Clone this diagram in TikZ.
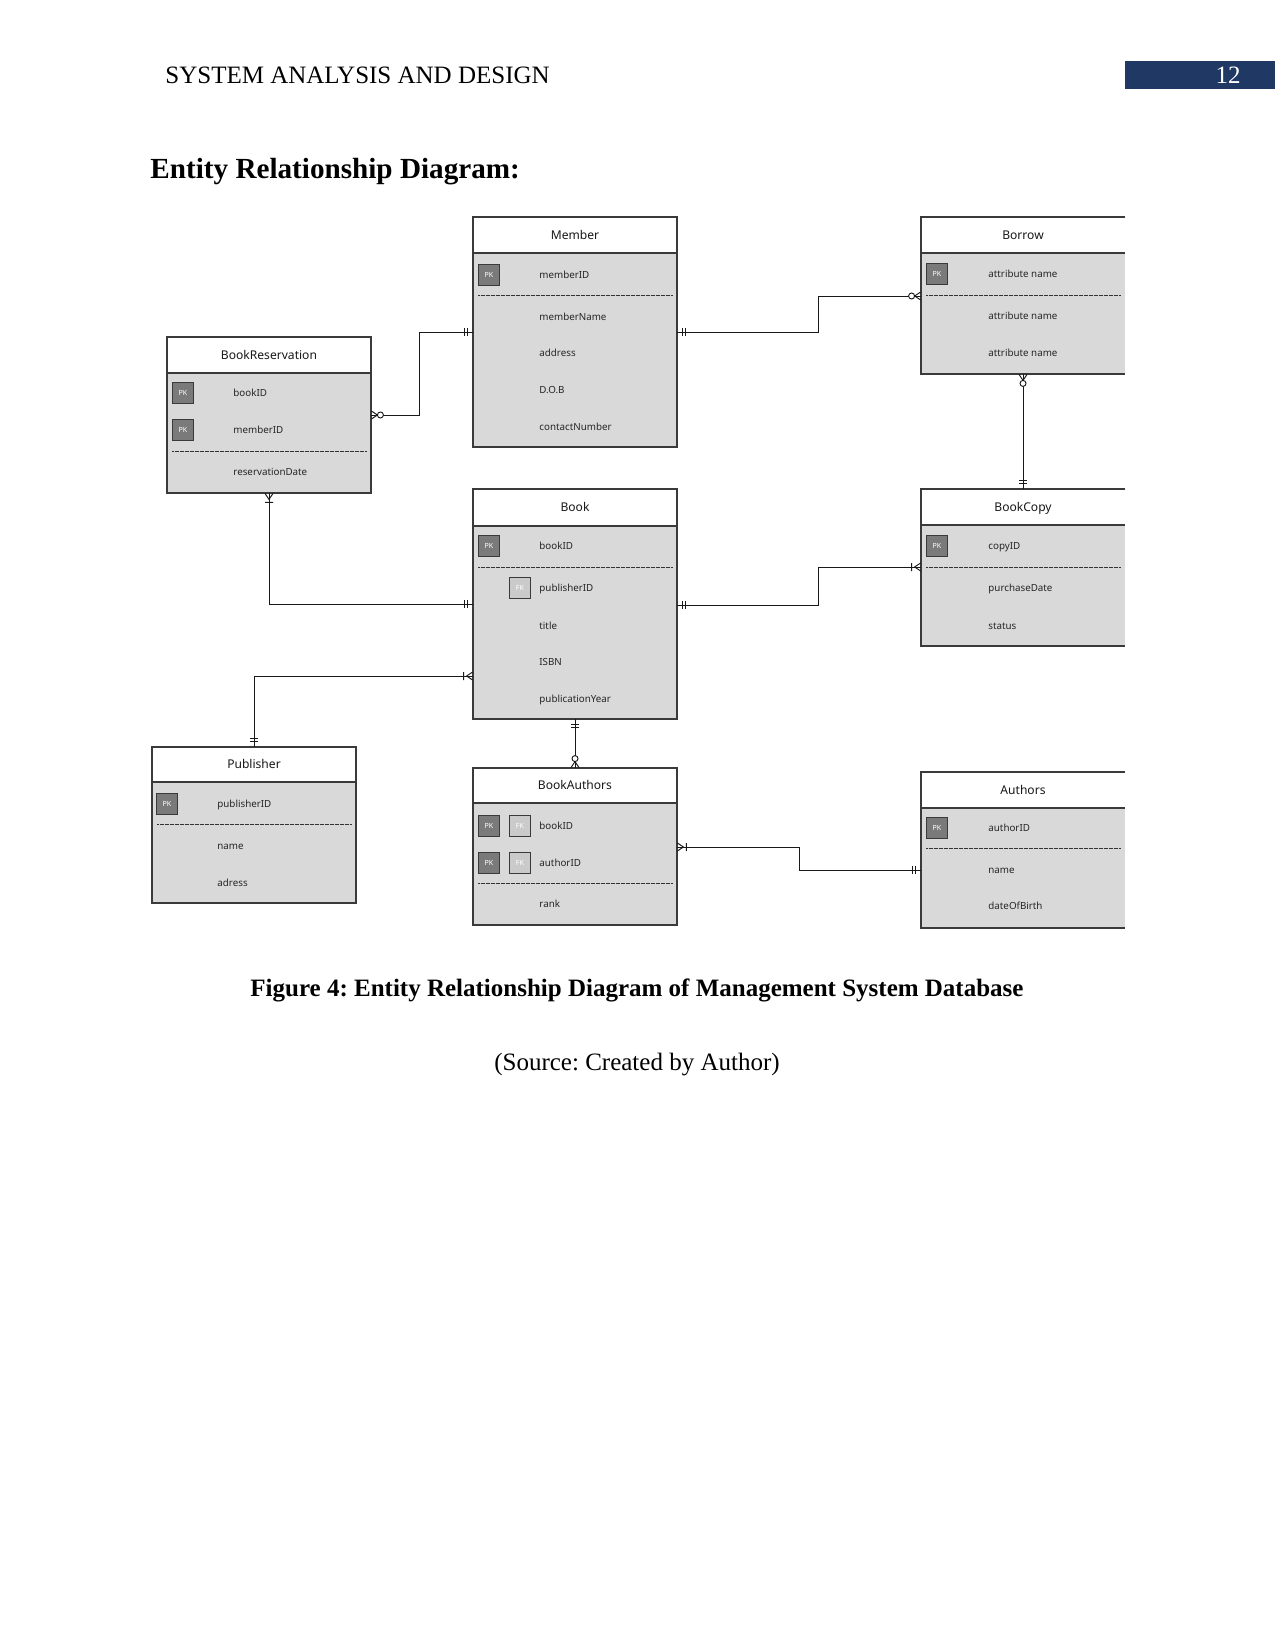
\documentclass[tikz,border=0pt]{standalone}
\usepackage{fontspec}
\setmainfont{Liberation Serif}
\newfontfamily\erfont{Noto Sans}
\usetikzlibrary{fit}
\frenchspacing
\definecolor{bodygray}{HTML}{D9D9D9}
\definecolor{pkgray}{HTML}{7A7A7A}
\definecolor{fkgray}{HTML}{CACACA}
\definecolor{edgegray}{HTML}{3A3A3A}
\definecolor{pageblue}{HTML}{1F3864}
\tikzset{
  ent/.style={draw=edgegray, line width=0.5pt},
  sep/.style={draw=black!80, line width=0.3pt, dash pattern=on 0.35pt off 0.25pt},
  attr/.style={anchor=west, inner sep=0pt, text height=3.4pt, text depth=0pt, font=\erfont\fontsize{4.7}{5}\selectfont, text=black!85},
  ttl/.style={inner sep=0pt, text height=4.2pt, text depth=0pt, font=\erfont\fontsize{5.8}{7}\selectfont, text=black!90},
  keybox/.style={draw=edgegray, line width=0.4pt, minimum width=10pt, minimum height=10pt, inner sep=0pt, font=\erfont\fontsize{3.4}{4}\selectfont, text=white},
  pk/.style={keybox, fill=pkgray},
  fk/.style={keybox, fill=fkgray},
  conn/.style={draw=black!90, line width=0.45pt},
  pics/ermone/.style={code={\draw[conn] (5,-4)--(5,4) (8,-4)--(8,4);}},
  pics/erzmany/.style={code={\draw[conn] (0,-4)--(6,0)--(0,4); \draw[conn,fill=white] (9,0) circle (3);}},
  pics/eromany/.style={code={\draw[conn] (0,-4)--(6,0)--(0,4) (9,-4)--(9,4);}},
}
% name, x1, ytop, yheader, ybottom, title
\newcommand{\erentity}[6]{%
  \fill[white] (#2,#3) rectangle (#2+204,#4);
  \fill[bodygray] (#2,#4) rectangle (#2+204,#5);
  \draw[ent] (#2,#3) rectangle (#2+204,#5);
  \draw[ent] (#2,#4) -- (#2+204,#4);
  \node[ttl] at (#2+102,{(#3+#4)/2}) {#6};
  \node[fit={(#2,#3)(#2+204,#5)}, inner sep=0pt] (#1) {};
}
\newcommand{\erentityopen}[6]{%
  \fill[white] (#2,#3) rectangle (#2+204,#4);
  \fill[bodygray] (#2,#4) rectangle (#2+204,#5);
  \draw[ent] (#2+204,#3) -- (#2,#3) -- (#2,#5) -- (#2+204,#5);
  \draw[ent] (#2,#4) -- (#2+204,#4);
  \node[ttl] at (#2+102,{(#3+#4)/2}) {#6};
  \node[fit={(#2,#3)(#2+204,#5)}, inner sep=0pt] (#1) {};
}
\begin{document}
\begin{tikzpicture}[x=0.48pt, y=-0.48pt]
\useasboundingbox (0,0) rectangle (1275,1650);
\fill[white] (0,0) rectangle (1275,1650);

% page header
\node[anchor=base west, inner sep=0pt, font=\fontsize{12}{14}\selectfont] (hdr) at (165,84) {SYSTEM ANALYSIS AND DESIGN};
\fill[pageblue] (1125,61) rectangle (1275,89);
\node[anchor=base, inner sep=0pt, text=white, font=\fontsize{12}{14}\selectfont] (pgnum) at (1228,84) {12};
\node[anchor=base west, inner sep=0pt, font=\bfseries\fontsize{14}{17}\selectfont] (heading) at (150,179) {Entity Relationship Diagram:};

% ---------- entities ----------
% Member
\erentity{member}{473}{217}{253}{447}{Member}
\node[pk] (m-pk) at (489,275) {PK};
\node[attr] (m-a1) at (539,275) {memberID};
\draw[sep] (478,295) -- (672,295);
\node[attr] (m-a2) at (539,317) {memberName};
\node[attr] (m-a3) at (539,353) {address};
\node[attr] (m-a4) at (539,390) {D.O.B};
\node[attr] (m-a5) at (539,427) {contactNumber};

% Borrow
\erentityopen{borrow}{921}{217}{253}{374}{Borrow}
\node[pk] (b-pk) at (937,274) {PK};
\node[attr] (b-a1) at (988,274) {attribute name};
\draw[sep] (926,295) -- (1120,295);
\node[attr] (b-a2) at (988,316) {attribute name};
\node[attr] (b-a3) at (988,353) {attribute name};

% BookReservation
\erentity{res}{167}{337}{373}{493}{BookReservation}
\node[pk] (r-pk1) at (183,393) {PK};
\node[attr] (r-a1) at (233,393) {bookID};
\node[pk] (r-pk2) at (183,430) {PK};
\node[attr] (r-a2) at (233,430) {memberID};
\draw[sep] (172,451) -- (366,451);
\node[attr] (r-a3) at (233,472) {reservationDate};

% Book
\erentity{book}{473}{489}{526}{719}{Book}
\node[pk] (bk-pk) at (489,546) {PK};
\node[attr] (bk-a1) at (539,546) {bookID};
\draw[sep] (478,567) -- (672,567);
\node[fk] (bk-fk) at (520,588) {FK};
\node[attr] (bk-a2) at (539,588) {publisherID};
\node[attr] (bk-a3) at (539,626) {title};
\node[attr] (bk-a4) at (539,662) {ISBN};
\node[attr] (bk-a5) at (539,699) {publicationYear};

% BookCopy
\erentityopen{bookcopy}{921}{489}{525}{646}{BookCopy}
\node[pk] (c-pk) at (937,546) {PK};
\node[attr] (c-a1) at (988,546) {copyID};
\draw[sep] (926,567) -- (1120,567);
\node[attr] (c-a2) at (988,588) {purchaseDate};
\node[attr] (c-a3) at (988,626) {status};

% Publisher
\erentity{publisher}{152}{747}{782}{903}{Publisher}
\node[pk] (p-pk) at (167,804) {PK};
\node[attr] (p-a1) at (217,804) {publisherID};
\draw[sep] (157,824) -- (351,824);
\node[attr] (p-a2) at (217,846) {name};
\node[attr] (p-a3) at (217,883) {adress};

% BookAuthors
\erentity{ba}{473}{768}{803}{925}{BookAuthors}
\node[pk] (ba-pk1) at (489,826) {PK};
\node[fk] (ba-fk1) at (520,826) {FK};
\node[attr] (ba-a1) at (539,826) {bookID};
\node[pk] (ba-pk2) at (489,863) {PK};
\node[fk] (ba-fk2) at (520,863) {FK};
\node[attr] (ba-a2) at (539,863) {authorID};
\draw[sep] (478,883) -- (672,883);
\node[attr] (ba-a3) at (539,904) {rank};

% Authors
\erentityopen{authors}{921}{772}{808}{928}{Authors}
\node[pk] (au-pk) at (937,828) {PK};
\node[attr] (au-a1) at (988,828) {authorID};
\draw[sep] (926,848) -- (1120,848);
\node[attr] (au-a2) at (988,870) {name};
\node[attr] (au-a3) at (988,906) {dateOfBirth};

% ---------- connectors ----------
\draw[conn] (member.west |- 0,332) -| (419,415) -- (res.east |- 0,415);
\draw[conn] (member.east |- 0,332) -| (818,296) -- (borrow.west |- 0,296);
\draw[conn] (borrow.south) -- (bookcopy.north);
\draw[conn] (res.south) |- (book.west |- 0,604);
\draw[conn] (book.east |- 0,605) -| (818,567) -- (bookcopy.west |- 0,567);
\draw[conn] (book.west |- 0,676) -| (publisher.north);
\draw[conn] (book.south) -- (ba.north);
\draw[conn] (ba.east |- 0,847) -| (799,870) -- (authors.west |- 0,870);

% ---------- cardinality marks ----------
\pic[rotate=180] at (member.west |- 0,332) {ermone};
\pic at (res.east |- 0,415) {erzmany};
\pic at (member.east |- 0,332) {ermone};
\pic[rotate=180] at (borrow.west |- 0,296) {erzmany};
\pic[rotate=-90] at (borrow.south) {erzmany};
\pic[rotate=90] at (bookcopy.north) {ermone};
\pic[rotate=-90] at (res.south) {eromany};
\pic[rotate=180] at (book.west |- 0,604) {ermone};
\pic at (book.east |- 0,605) {ermone};
\pic[rotate=180] at (bookcopy.west |- 0,567) {eromany};
\pic[rotate=180] at (book.west |- 0,676) {eromany};
\pic[rotate=90] at (publisher.north) {ermone};
\pic[rotate=-90] at (book.south) {ermone};
\pic[rotate=90] at (ba.north) {erzmany};
\pic at (ba.east |- 0,847) {eromany};
\pic[rotate=180] at (authors.west |- 0,870) {ermone};

% ---------- caption ----------
\node[anchor=base, inner sep=0pt, font=\bfseries\fontsize{12}{14}\selectfont] (caption) at (637,996) {Figure 4: Entity Relationship Diagram of Management System Database};
\node[anchor=base, inner sep=0pt, font=\fontsize{12}{14}\selectfont] (source) at (637,1070) {(Source: Created by Author)};
\end{tikzpicture}
\end{document}
